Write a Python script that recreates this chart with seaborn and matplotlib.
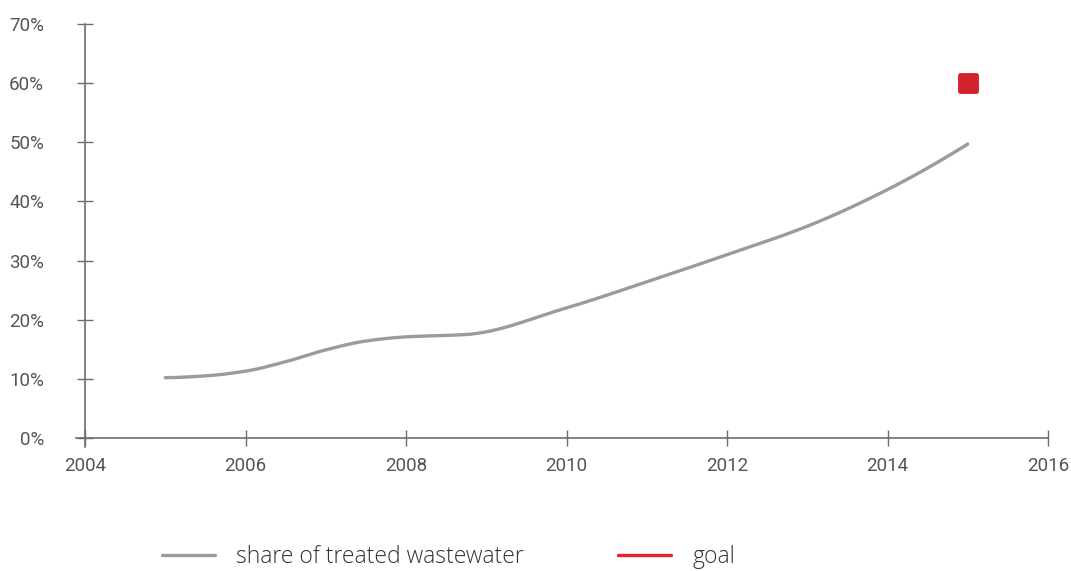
import numpy as np
import pandas as pd
import seaborn as sns
import matplotlib
matplotlib.use("Agg")
import matplotlib.pyplot as plt
from matplotlib.lines import Line2D
from matplotlib.ticker import FuncFormatter

# Share of treated wastewater (%), by year
years = [2005, 2005.5, 2006, 2006.5, 2007, 2007.5, 2008, 2008.75,
         2010, 2011, 2012, 2013, 2014, 2015]
share = [10.2, 10.5, 11.3, 12.9, 14.9, 16.4, 17.1, 17.5,
         22.0, 26.4, 31.0, 35.8, 42.0, 49.7]

# Target value
goal_year = [2015]
goal_value = [60.0]

x_ticks = [2004, 2006, 2008, 2010, 2012, 2014, 2016]
y_ticks = [0, 10, 20, 30, 40, 50, 60, 70]
legend_labels = ["share of treated wastewater", "goal"]


def pchip(x, y, xs):
    """Monotone cubic (Fritsch-Carlson) curve through the given points."""
    x = np.asarray(x, float)
    y = np.asarray(y, float)
    h = np.diff(x)
    d = np.diff(y) / h
    m = np.zeros_like(y)
    for k in range(1, len(x) - 1):
        if d[k - 1] * d[k] > 0:
            w1 = 2 * h[k] + h[k - 1]
            w2 = h[k] + 2 * h[k - 1]
            m[k] = (w1 + w2) / (w1 / d[k - 1] + w2 / d[k])
    # one-sided three-point end slopes
    m[0] = max(((2 * h[0] + h[1]) * d[0] - h[0] * d[1]) / (h[0] + h[1]), 0)
    m[-1] = ((2 * h[-1] + h[-2]) * d[-1] - h[-1] * d[-2]) / (h[-1] + h[-2])
    idx = np.clip(np.searchsorted(x, xs) - 1, 0, len(x) - 2)
    t = (xs - x[idx]) / h[idx]
    h00 = 2 * t**3 - 3 * t**2 + 1
    h10 = t**3 - 2 * t**2 + t
    h01 = -2 * t**3 + 3 * t**2
    h11 = t**3 - t**2
    return h00 * y[idx] + h10 * h[idx] * m[idx] + h01 * y[idx + 1] + h11 * h[idx] * m[idx + 1]


xs = np.linspace(years[0], years[-1], 500)
curve = pd.DataFrame({"year": xs, "share": pchip(years, share, xs)})
goal = pd.DataFrame({"year": goal_year, "share": goal_value})

sns.set_theme(style="white")
tick_font = ["Roboto", "DejaVu Sans"]
legend_font = ["Open Sans", "DejaVu Sans"]

axis_col = "#6d6d6d"
text_col = "#555555"
line_col = "#9b9b9c"
goal_col = "#d3222b"
goal_legend_col = "#e8212a"

W, H = 1071, 571
fig = plt.figure(figsize=(W / 100, H / 100), dpi=100)
ax = fig.add_axes([85 / W, 1 - 438 / H, (1048 - 85) / W, (438 - 24) / H])

sns.lineplot(data=curve, x="year", y="share", ax=ax, color=line_col,
             linewidth=2.4, solid_capstyle="round", legend=False)
sns.scatterplot(data=goal, x="year", y="share", ax=ax, marker="s", s=120,
                color=goal_col, edgecolor=goal_col, linewidth=3.5, legend=False,
                zorder=5)
for coll in ax.collections:
    coll.set_joinstyle("round")

ax.set_xlim(2004, 2016)
ax.set_ylim(0, 70)
ax.set_xticks(x_ticks)
ax.set_yticks(y_ticks)
ax.yaxis.set_major_formatter(FuncFormatter(lambda v, p: f"{v:.0f}%"))
ax.set_xlabel("")
ax.set_ylabel("")

for side in ["top", "right"]:
    ax.spines[side].set_visible(False)
for side in ["left", "bottom"]:
    ax.spines[side].set_color(axis_col)
    ax.spines[side].set_linewidth(1.2)
ax.spines["left"].set_bounds(-1.5, 70)
ax.spines["bottom"].set_bounds(2004 - 9 / 80.25, 2016)

ax.tick_params(axis="both", which="major", direction="inout", length=11,
               width=1.0, color=axis_col, labelcolor=text_col, labelsize=13.5,
               bottom=True, left=True)
ax.tick_params(axis="y", pad=24)
ax.tick_params(axis="x", pad=8)
for lbl in ax.get_xticklabels() + ax.get_yticklabels():
    lbl.set_family(tick_font)
    lbl.set_fontweight("normal")

# Legend: two entries placed along the bottom edge
legend_y = 1 - 557 / H
entries = [
    (Line2D([0], [0], color=line_col, linewidth=2.4), legend_labels[0], 162),
    (Line2D([0], [0], color=goal_legend_col, linewidth=2.4), legend_labels[1], 618),
]
for handle, label, x_px in entries:
    fig.legend([handle], [label], loc="center left",
               bbox_to_anchor=(x_px / W, legend_y), frameon=False,
               borderaxespad=0, borderpad=0, handlelength=2.3, handletextpad=0.95,
               prop={"family": legend_font, "size": 16.5, "weight": "light"},
               labelcolor="#333333")

fig.savefig("out.png", dpi=100)
